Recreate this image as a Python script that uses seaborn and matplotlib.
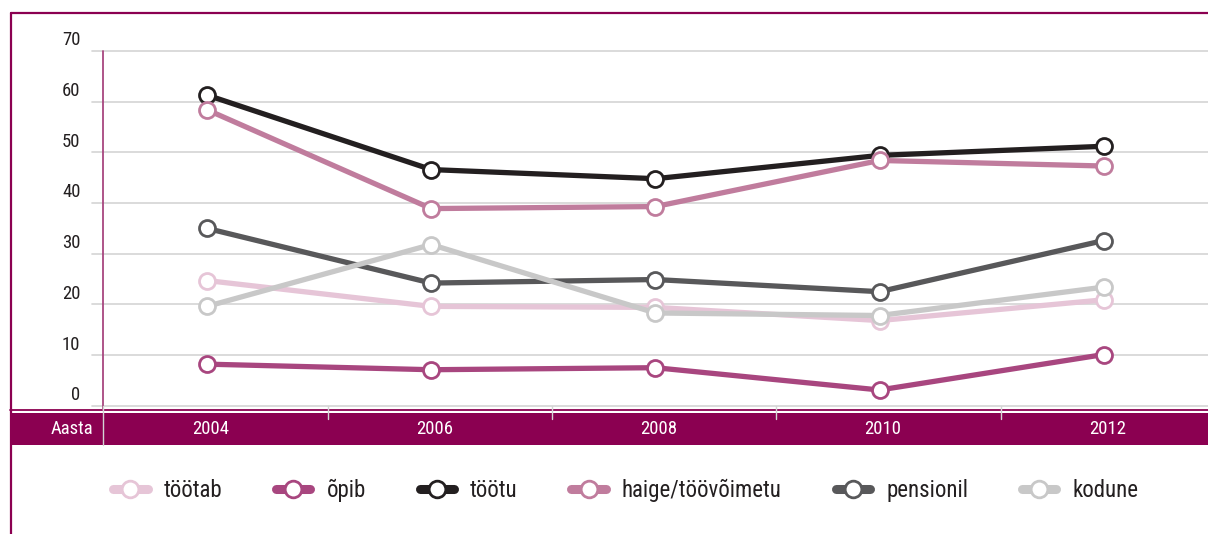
import matplotlib
matplotlib.use("Agg")
import matplotlib.pyplot as plt
from matplotlib.lines import Line2D
from matplotlib.patches import Rectangle
import seaborn as sns
import pandas as pd

# ---- data ----
years = ["2004", "2006", "2008", "2010", "2012"]
series_names = ["töötab", "õpib", "töötu", "haige/töövõimetu", "pensionil", "kodune"]
tootab = [24.7, 19.6, 19.4, 16.8, 20.9]
opib = [8.2, 7.1, 7.5, 3.1, 10.1]
tootu = [61.3, 46.6, 44.8, 49.4, 51.2]
haige = [58.4, 38.9, 39.3, 48.4, 47.3]
pensionil = [35.0, 24.2, 24.9, 22.5, 32.6]
kodune = [19.6, 31.8, 18.3, 17.8, 23.4]
y_ticks = [0, 10, 20, 30, 40, 50, 60, 70]
x_title = "Aasta"

colors = ["#E6C5D7", "#A8467F", "#231F20", "#C07C9D", "#58585A", "#C8C8C8"]
values = [tootab, opib, tootu, haige, pensionil, kodune]

rows = []
for name, vals in zip(series_names, values):
    for i, (yr, v) in enumerate(zip(years, vals)):
        rows.append({"series": name, "pos": i, "year": yr, "value": v})
df = pd.DataFrame(rows)

sns.set_theme(style="white")
plt.rcParams["font.family"] = ["Roboto Condensed", "Roboto", "DejaVu Sans"]

W, H = 1208, 534
fig = plt.figure(figsize=(W / 100, H / 100), dpi=100)
ax_left, ax_right = 103, 1208
ax_top, ax_bot = 51, 405.7
ax = fig.add_axes([ax_left / W, 1 - ax_bot / H, (ax_right - ax_left) / W, (ax_bot - ax_top) / H])

step_px = 224.2
first_px = 207.0
ax.set_xlim((ax_left - first_px) / step_px, (ax_right - first_px) / step_px)
ax.set_ylim(0, 70)

magenta = "#8B0051"
textc = "#231F20"
gridc = "#D4D4D4"

# gridlines
ext = 11 / (ax_right - ax_left)
for t in y_ticks:
    ax.axhline(t, xmin=-ext, xmax=1, color=gridc, lw=1.2, clip_on=False, zorder=1)

# series
for name, c in zip(series_names, colors):
    sub = df[df["series"] == name]
    sns.lineplot(data=sub, x="pos", y="value", ax=ax, color=c, lw=3.8,
                 marker="o", markersize=11.5, markerfacecolor="white",
                 markeredgecolor=c, markeredgewidth=2.0, zorder=3, legend=False)

for s in ax.spines.values():
    s.set_visible(False)
ax.set_xticks([])
ax.set_yticks([])
ax.set_xlabel("")
ax.set_ylabel("")

hpx = ax_bot - ax_top
wpx = ax_right - ax_left
def ay(py):
    return -(py - ax_bot) / hpx
def axx(px):
    return (px - ax_left) / wpx

# y tick labels (sit on gridlines)
ytr = ax.get_yaxis_transform()
for t in y_ticks:
    ax.text(axx(80.5), t + 0.3, str(t), transform=ytr, ha="right", va="bottom",
            fontsize=13.5, color=textc, clip_on=False)

# bottom band
band = Rectangle((axx(10), ay(445.3)), axx(1215) - axx(10), ay(412.7) - ay(445.3),
                 transform=ax.transAxes, facecolor=magenta, edgecolor="none",
                 clip_on=False, zorder=4)
ax.add_patch(band)
ax.add_line(Line2D([axx(10), axx(1215)], [ay(410.3), ay(410.3)], transform=ax.transAxes,
                   color=magenta, lw=1.3, clip_on=False, zorder=4))
ax.add_line(Line2D([0, 0], [1, ay(410.3)], transform=ax.transAxes,
                   color="#A8467F", lw=1.3, clip_on=False, zorder=4))
ax.add_line(Line2D([0, 0], [0, ay(445.3)], transform=ax.transAxes,
                   color=gridc, lw=1.0, clip_on=False, zorder=5))
btr = ax.get_xaxis_transform()
tick_off = (328 - first_px) / step_px
for i in range(len(years) - 1):
    ax.add_line(Line2D([i + tick_off, i + tick_off], [0, ay(419)], transform=btr,
                       color=gridc, lw=1.0, clip_on=False, zorder=5))
lab_off = 3.5 / step_px
for i, yr in enumerate(years):
    ax.text(i + lab_off, ay(428.6), yr, transform=btr, ha="center", va="center",
            fontsize=13.5, color="white", clip_on=False, zorder=6)
ax.text(axx(93.5), ay(428.6), x_title, transform=ax.transAxes, ha="right", va="center",
        fontsize=13.5, color="white", clip_on=False, zorder=6)

# outer frame (left and top)
fig.add_artist(Line2D([10.5 / W, 10.5 / W], [0, 1 - 13 / H], color=magenta, lw=1.6))
fig.add_artist(Line2D([10.5 / W, 1], [1 - 13 / H, 1 - 13 / H], color=magenta, lw=1.6))

# legend
handles = [Line2D([0], [0], color=c, lw=6.5, solid_capstyle="round", marker="o",
                  markersize=12, markerfacecolor="white", markeredgecolor=c,
                  markeredgewidth=2.0) for c in colors]
fig.legend(handles, series_names, loc="center", bbox_to_anchor=(0.518, 1 - 490 / H),
           ncol=6, frameon=False, fontsize=16.5, handlelength=1.5,
           handletextpad=0.7, columnspacing=2.35, labelcolor=textc)

fig.savefig("out.png", dpi=100)
